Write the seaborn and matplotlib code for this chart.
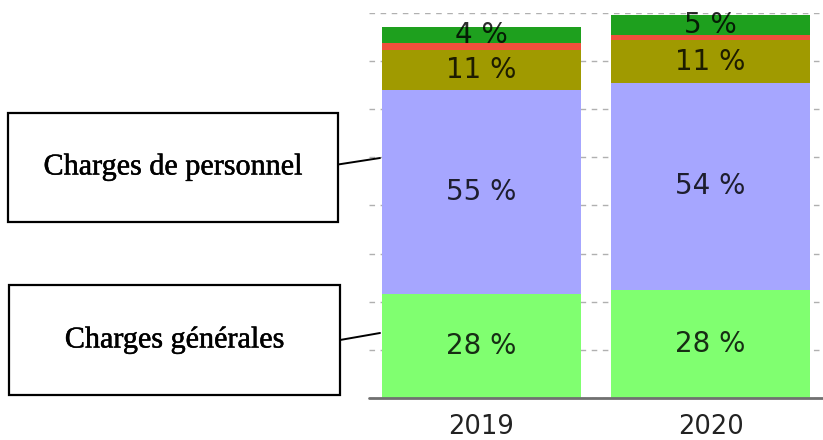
import matplotlib
matplotlib.use("Agg")
import matplotlib.pyplot as plt
import matplotlib.patheffects as pe
from matplotlib.patches import Rectangle
from matplotlib.lines import Line2D
import pandas as pd
import seaborn as sns

# stacked cost shares per year (bottom -> top)
years = ["2019", "2020"]
segments = ["Charges générales", "Charges de personnel", "Autres 1", "Autres 2", "Autres 3"]
general = [2.16, 2.24]
personnel = [4.24, 4.31]
other_olive = [0.84, 0.88]
other_red = [0.13, 0.12]
other_green = [0.34, 0.40]
colors = ["#80ff70", "#a6a6ff", "#a09a00", "#f0503c", "#1ea01e"]

callouts = ["Charges de personnel", "Charges générales"]

df = pd.DataFrame({"year": years, segments[0]: general, segments[1]: personnel,
                   segments[2]: other_olive, segments[3]: other_red, segments[4]: other_green})
cum = df[segments].cumsum(axis=1)
totals = cum[segments[-1]]

sns.set_style("white")
fig = plt.figure(figsize=(8.23, 4.40), dpi=100)
ax = fig.add_axes([369 / 823, 42 / 440, 1 - 369 / 823, 385 / 440])

# draw cumulative bars from top segment down so each covers the one above
for seg, col in reversed(list(zip(segments, colors))):
    sns.barplot(x=df["year"], y=cum[seg], color=col, width=0.87, saturation=1,
                edgecolor="none", ax=ax, zorder=2)

# percent labels centred in each segment
for i in range(len(years)):
    bottom = 0
    for seg in segments:
        val = df.loc[i, seg]
        share = val / totals[i] * 100
        if share >= 3:
            ax.text(i, bottom + val / 2, f"{round(share)} %", ha="center", va="center",
                    fontsize=20, color="black", alpha=0.82, zorder=3)
        bottom += val

ax.set_ylim(0, 8)
ax.set_xlim(-0.49, 1.49)
ax.set_yticks(range(0, 9))
ax.yaxis.grid(True, linestyle=(0, (4, 4)), color="#b0b0b0", linewidth=1, zorder=0)
ax.set_axisbelow(True)
ax.axhline(0, color="#707070", linewidth=2, zorder=4, clip_on=False)
ax.tick_params(axis="y", left=False, labelleft=False)
ax.tick_params(axis="x", bottom=False, labelsize=18.5, labelcolor="#222222", pad=8)
ax.set_xlabel("")
ax.set_ylabel("")
sns.despine(ax=ax, left=True, bottom=True, top=True, right=True)

# call-out boxes on the left
W, H = 823, 440
boxes = [(8, 113, 338, 222, 158), (9, 285, 340, 395, 333)]
for text, (x0, y0, x1, y1, yend) in zip(callouts, boxes):
    fig.add_artist(Rectangle((x0 / W, 1 - y1 / H), (x1 - x0) / W, (y1 - y0) / H,
                             transform=fig.transFigure, fill=False,
                             edgecolor="black", linewidth=1.6))
    fig.text((x0 + x1) / 2 / W, 1 - (y0 + y1) / 2 / H, text, ha="center", va="center",
             fontsize=21.7, family="Liberation Serif", color="black",
             path_effects=[pe.withStroke(linewidth=0.35, foreground="black")])
    ymid = (y0 + y1) / 2 - 3 if yend < 200 else (y0 + y1) / 2
    fig.add_artist(Line2D([x1 / W, 380 / W], [1 - ymid / H, 1 - yend / H],
                          transform=fig.transFigure, color="black", linewidth=1.4))

fig.savefig("out.png", dpi=100)
